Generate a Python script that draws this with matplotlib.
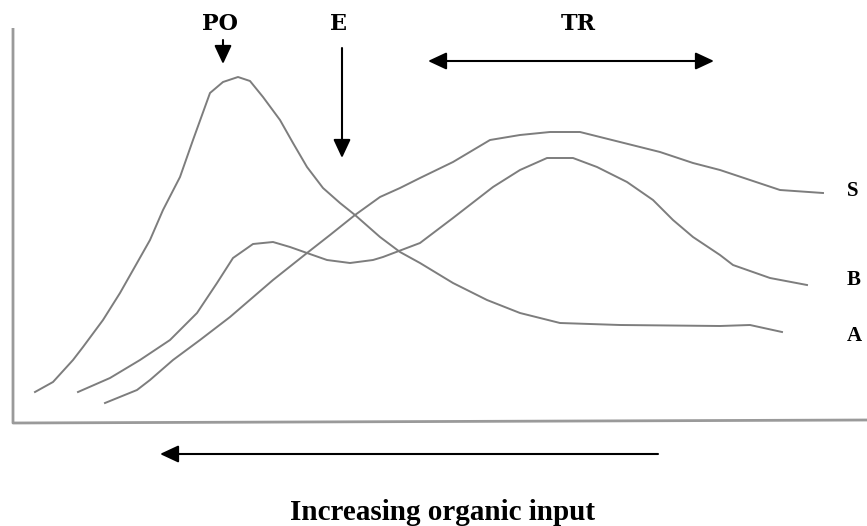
import matplotlib
matplotlib.use('Agg')
from matplotlib import pyplot as plt

# schematic curves, traced in picture units (x to the right, y downwards)
a_x = [35, 53, 73, 83, 103, 120, 137, 150, 163, 180, 193, 210, 223, 238, 250, 263, 280, 293, 307, 323, 340, 355, 380, 400,
       420, 453, 487, 520, 560, 620, 720, 750, 782]
a_y = [392, 382, 360, 347, 320, 293, 263, 240, 210, 177, 140, 93, 82, 77, 81, 97, 120, 143, 167, 188, 203, 215, 237, 252,
       263, 283, 300, 313, 323, 325, 326, 325, 332]

b_x = [78, 110, 140, 170, 197, 217, 233, 253, 273, 290, 307, 327, 350, 373, 383, 420, 453, 493, 520, 547, 573, 597, 627,
       653, 673, 693, 720, 733, 770, 807]
b_y = [392, 378, 360, 340, 313, 283, 258, 244, 242, 247, 253, 260, 263, 260, 257, 243, 218, 187, 170, 158, 158, 167, 182,
       200, 220, 237, 255, 265, 278, 285]

s_x = [105, 137, 150, 173, 200, 230, 273, 307, 330, 355, 380, 400, 420, 453, 490, 520, 550, 580, 620, 660, 693, 720, 780, 823]
s_y = [403, 390, 380, 360, 340, 317, 280, 253, 235, 215, 197, 188, 178, 162, 140, 135, 132, 132, 142, 152, 163, 170, 190, 193]

curve_labels = ['S', 'B', 'A']
curve_label_y = [191, 280, 336]

top_labels = ['PO', 'E', 'TR']
top_label_x = [220, 338, 578]
x_title = 'Increasing organic input'

fig = plt.figure(figsize=(8.67, 5.26), dpi=100)
ax = fig.add_axes([0, 0, 1, 1])
ax.set_xlim(0, 867)
ax.set_ylim(526, 0)
ax.axis('off')

# axes frame (left and bottom only)
ax.plot([13, 13, 867], [28, 423, 420], color='#9a9a9a', lw=2, solid_capstyle='butt')

for xs, ys in [(a_x, a_y), (b_x, b_y), (s_x, s_y)]:
    ax.plot(xs, ys, color='#7d7d7d', lw=1.4, solid_joinstyle='round')

for lab, y in zip(curve_labels, curve_label_y):
    ax.text(847, y, lab, ha='left', va='center', fontsize=15,
            family='Liberation Serif', weight='bold')

for lab, x in zip(top_labels, top_label_x):
    ax.text(x, 24, lab, ha='center', va='center', fontsize=16,
            family='DejaVu Serif', weight='bold')

head = '-|>,head_length=0.75,head_width=0.35'
arrow = dict(arrowstyle=head, color='black', lw=1.5, shrinkA=0, shrinkB=0, mutation_scale=15)
# PO and E pointers
ax.annotate('', xy=(223, 64), xytext=(223, 40), arrowprops=arrow)
ax.annotate('', xy=(342, 158), xytext=(342, 48), arrowprops=arrow)
# TR range
ax.annotate('', xy=(428, 61), xytext=(714, 61),
            arrowprops=dict(arrow, arrowstyle='<|-|>,head_length=0.75,head_width=0.35'))
# direction of increasing input
ax.annotate('', xy=(160, 454), xytext=(658, 454), arrowprops=arrow)

ax.text(443, 512, x_title, ha='center', va='center', fontsize=21,
        family='Liberation Serif', weight='bold')

fig.savefig('out.png', dpi=100)
